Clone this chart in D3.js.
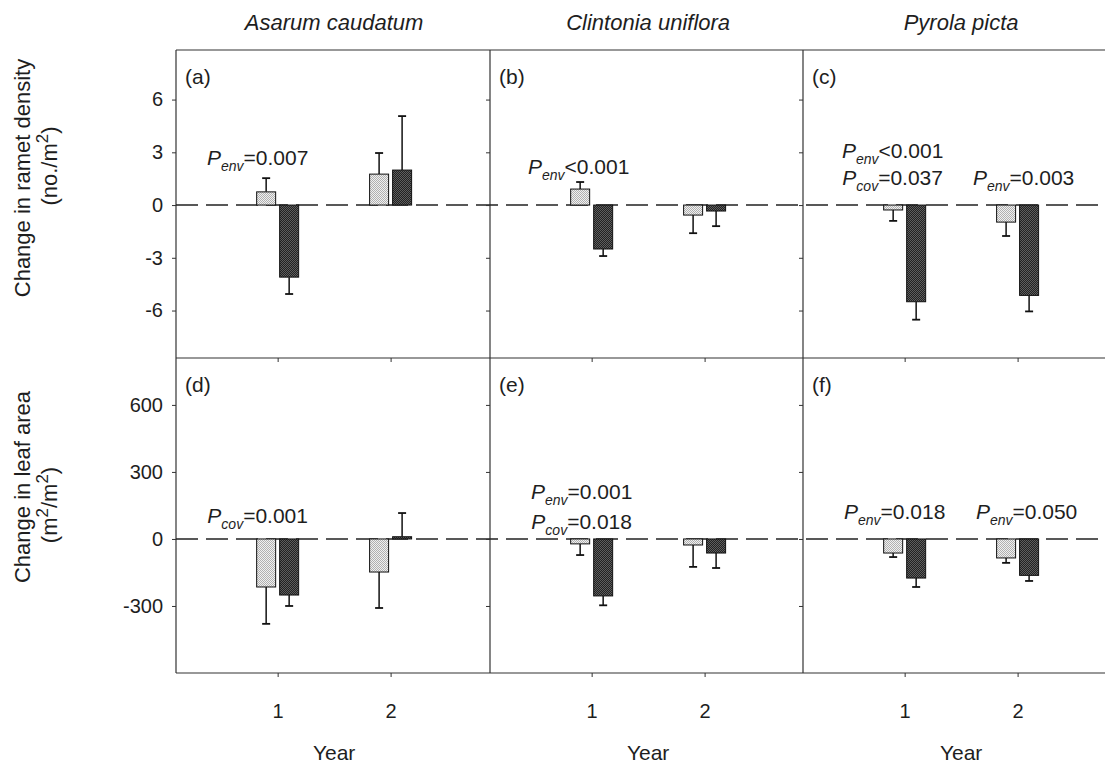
<!DOCTYPE html>
<html>
<head>
<meta charset="utf-8">
<script src="https://cdn.jsdelivr.net/npm/d3@7"></script>
<style>
  body { margin: 0; background: #fff; }
  svg { display: block; font-family: "Liberation Sans", Arial, sans-serif; }
</style>
</head>
<body>
<svg id="chart" width="1105" height="766"></svg>
<script>
// ---- data ----
const species = ["Asarum caudatum", "Clintonia uniflora", "Pyrola picta"];
const panelLetters = [["(a)", "(b)", "(c)"], ["(d)", "(e)", "(f)"]];
const years = [1, 2];
const series = ["light", "dark"];

// change in ramet density (no./m2), [species][year]
const densityLight    = [[0.75, 1.76], [0.91, -0.57], [-0.28, -0.97]];
const densityLightErr = [[0.78, 1.20], [0.40, 1.03], [0.62, 0.79]];
const densityDark     = [[-4.10, 1.99], [-2.50, -0.34], [-5.50, -5.14]];
const densityDarkErr  = [[0.96, 3.07], [0.40, 0.86], [1.02, 0.91]];

// change in leaf area (m2/m2), [species][year]
const leafLight    = [[-215, -148], [-22, -27], [-63, -85]];
const leafLightErr = [[165, 161], [50, 98], [18, 22]];
const leafDark     = [[-251, 10], [-255, -63], [-175, -163]];
const leafDarkErr  = [[49, 106], [42, 67], [40, 25]];

const densityTicks = [-6, -3, 0, 3, 6];
const leafTicks = [-300, 0, 300, 600];

// significance notes: [row][species] -> list of {year, level, dx, sub, text}
const densityNotes = [
  [{ year: 1, level: 2.28, dx: -20, sub: "env", text: "=0.007" }],
  [{ year: 1, level: 1.76, dx: -13, sub: "env", text: "<0.001" }],
  [{ year: 1, level: 2.67, dx: -12, sub: "env", text: "<0.001" },
   { year: 1, level: 1.14, dx: -12, sub: "cov", text: "=0.037" },
   { year: 2, level: 1.14, dx: 6, sub: "env", text: "=0.003" }]
];
const leafNotes = [
  [{ year: 1, level: 72, dx: -20, sub: "cov", text: "=0.001" }],
  [{ year: 1, level: 179, dx: -10, sub: "env", text: "=0.001" },
   { year: 1, level: 45, dx: -10, sub: "cov", text: "=0.018" }],
  [{ year: 1, level: 90, dx: -10, sub: "env", text: "=0.018" },
   { year: 2, level: 90, dx: 9, sub: "env", text: "=0.050" }]
];

// ---- layout ----
const colX = [176, 490, 803];
const colW = 314;
const rows = [
  { top: 50, bottom: 358, domain: [-8.7, 8.82], ticks: densityTicks,
    light: densityLight, lightErr: densityLightErr, dark: densityDark, darkErr: densityDarkErr, notes: densityNotes },
  { top: 358, bottom: 673, domain: [-600, 810], ticks: leafTicks,
    light: leafLight, lightErr: leafLightErr, dark: leafDark, darkErr: leafDarkErr, notes: leafNotes }
];
const ink = "#1e1e1e";
const frameColor = "#333";

const svg = d3.select("#chart");

// stippled fills for the two bar series
const defs = svg.append("defs");
function stipple(id, bg, dot) {
  const p = defs.append("pattern").attr("id", id).attr("patternUnits", "userSpaceOnUse")
    .attr("width", 2).attr("height", 2);
  p.append("rect").attr("width", 2).attr("height", 2).attr("fill", bg);
  p.append("rect").attr("x", 0).attr("y", 0).attr("width", 1).attr("height", 1).attr("fill", dot);
  p.append("rect").attr("x", 1).attr("y", 1).attr("width", 1).attr("height", 1).attr("fill", dot);
}
stipple("fill-light", "#f0f0f0", "#b0b0b0");
stipple("fill-dark", "#222222", "#5e5e5e");
const fills = { light: "url(#fill-light)", dark: "url(#fill-dark)" };

const sub = d3.scaleBand().domain(series).range([-21, 21]).paddingInner(0.174);

// frame: shared grid lines, each drawn once
const frame = svg.append("g").attr("stroke", frameColor).attr("stroke-width", 1.2);
[rows[0].top, rows[0].bottom, rows[1].bottom].forEach(yy => {
  frame.append("line").attr("x1", colX[0]).attr("x2", 1105).attr("y1", yy).attr("y2", yy);
});
colX.forEach(xx => {
  frame.append("line").attr("x1", xx).attr("x2", xx).attr("y1", rows[0].top).attr("y2", rows[1].bottom);
});

rows.forEach((row, r) => {
  const y = d3.scaleLinear().domain(row.domain).range([row.bottom, row.top]);

  // dashed zero reference across the row
  svg.append("line")
    .attr("x1", colX[0]).attr("x2", 1105)
    .attr("y1", y(0)).attr("y2", y(0))
    .attr("stroke", "#222").attr("stroke-width", 1.6).attr("stroke-dasharray", "22,8");

  species.forEach((sp, c) => {
    const x = d3.scaleLinear().domain([0.1, 2.88]).range([colX[c], colX[c] + colW]);
    const g = svg.append("g");

    // y axis
    const ya = d3.axisLeft(y).tickValues(row.ticks).tickSize(4).tickPadding(9)
      .tickFormat(c === 0 ? (d => String(d)) : () => "");
    const yg = g.append("g").attr("transform", `translate(${colX[c]},0)`).call(ya);
    yg.select(".domain").remove();
    yg.selectAll("line").attr("stroke", frameColor);
    yg.selectAll("text").attr("font-size", 20).attr("fill", ink);

    // x axis
    const xa = d3.axisBottom(x).tickValues(years).tickSize(4).tickPadding(27)
      .tickFormat(r === 1 ? (d => String(d)) : () => "");
    const xg = g.append("g").attr("transform", `translate(0,${row.bottom})`).call(xa);
    xg.select(".domain").remove();
    xg.selectAll("line").attr("stroke", frameColor);
    xg.selectAll("text").attr("font-size", 20).attr("fill", ink);

    // bars + one-sided error bars
    const recs = [];
    years.forEach((yr, i) => {
      recs.push({ yr, s: "light", v: row.light[c][i], e: row.lightErr[c][i] });
      recs.push({ yr, s: "dark", v: row.dark[c][i], e: row.darkErr[c][i] });
    });
    recs.forEach(d => {
      const x0 = x(d.yr) + sub(d.s);
      const cx = x0 + sub.bandwidth() / 2;
      const dir = d.v < 0 ? -1 : 1;
      g.append("line")
        .attr("x1", cx).attr("x2", cx)
        .attr("y1", y(d.v)).attr("y2", y(d.v + dir * d.e))
        .attr("stroke", "#111").attr("stroke-width", 1.5);
      g.append("line")
        .attr("x1", cx - 4).attr("x2", cx + 4)
        .attr("y1", y(d.v + dir * d.e)).attr("y2", y(d.v + dir * d.e))
        .attr("stroke", "#111").attr("stroke-width", 1.8);
      g.append("rect")
        .attr("x", x0).attr("width", sub.bandwidth())
        .attr("y", Math.min(y(d.v), y(0)))
        .attr("height", Math.abs(y(d.v) - y(0)))
        .attr("fill", fills[d.s]).attr("stroke", "#111").attr("stroke-width", 1);
    });

    // panel letter
    g.append("text").attr("x", colX[c] + 9).attr("y", row.top + 34)
      .attr("font-size", 21).attr("fill", ink).text(panelLetters[r][c]);

    // significance notes
    row.notes[c].forEach(n => {
      const t = g.append("text")
        .attr("x", x(n.year) + n.dx).attr("y", y(n.level))
        .attr("text-anchor", "middle").attr("font-size", 21).attr("fill", ink);
      t.append("tspan").attr("font-style", "italic").text("P");
      t.append("tspan").attr("font-style", "italic").attr("font-size", 14).attr("dy", 6).text(n.sub);
      t.append("tspan").attr("dy", -6).text(n.text);
    });

    // species titles and year labels
    const mid = (x(years[0]) + x(years[1])) / 2;
    if (r === 0) {
      svg.append("text").attr("x", mid).attr("y", 30).attr("text-anchor", "middle")
        .attr("font-size", 22).attr("font-style", "italic").attr("fill", ink).text(sp);
    } else {
      svg.append("text").attr("x", mid).attr("y", 760).attr("text-anchor", "middle")
        .attr("font-size", 21).attr("fill", ink).text("Year");
    }
  });
});

// y axis titles
function axisTitle(cx, cy, build) {
  const t = svg.append("text").attr("transform", `translate(${cx},${cy}) rotate(-90)`)
    .attr("text-anchor", "middle").attr("font-size", 22).attr("fill", ink);
  build(t);
}
axisTitle(30, 178, t => t.text("Change in ramet density"));
axisTitle(57, 166, t => {
  t.append("tspan").text("(no./m");
  t.append("tspan").attr("font-size", 17).attr("dy", -9).text("2");
  t.append("tspan").attr("dy", 9).text(")");
});
axisTitle(30, 487, t => t.text("Change in leaf area"));
axisTitle(57, 505, t => {
  t.append("tspan").text("(m");
  t.append("tspan").attr("font-size", 17).attr("dy", -9).text("2");
  t.append("tspan").attr("dy", 9).text("/m");
  t.append("tspan").attr("font-size", 17).attr("dy", -9).text("2");
  t.append("tspan").attr("dy", 9).text(")");
});
</script>
</body>
</html>
